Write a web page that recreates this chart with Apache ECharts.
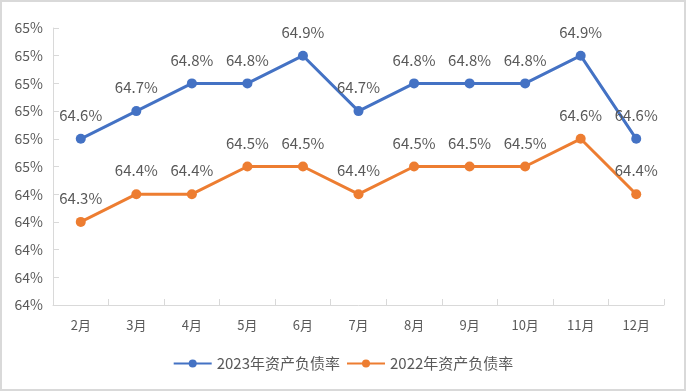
<!DOCTYPE html>
<html>
<head>
<meta charset="utf-8">
<script src="https://cdn.jsdelivr.net/npm/echarts@6/dist/echarts.min.js"></script>
<style>
html,body{margin:0;padding:0;background:#fff;}
#wrap{position:relative;width:686px;height:391px;}
#chart{width:686px;height:391px;}
#frame{position:absolute;left:0;top:0;width:686px;height:391px;box-sizing:border-box;border:2px solid #d9d9d9;pointer-events:none;}
</style>
</head>
<body>
<div id="wrap"><div id="chart"></div><div id="frame"></div></div>
<script>
const categories = ['2月','3月','4月','5月','6月','7月','8月','9月','10月','11月','12月'];
const series2023 = [64.6, 64.7, 64.8, 64.8, 64.9, 64.7, 64.8, 64.8, 64.8, 64.9, 64.6];
const series2022 = [64.3, 64.4, 64.4, 64.5, 64.5, 64.4, 64.5, 64.5, 64.5, 64.6, 64.4];
const yTickLabels = ['64%','64%','64%','64%','64%','65%','65%','65%','65%','65%','65%'];
const seriesNames = ['2023年资产负债率','2022年资产负债率'];

const FONT = "'Noto Sans CJK SC', 'Noto Sans', sans-serif";
const TEXT = '#595959';
const AXIS = '#d9d9d9';

const chart = echarts.init(document.getElementById('chart'));
function mkSeries(name, data, color) {
  return {
    name: name, type: 'line', data: data,
    symbol: 'circle', symbolSize: 10,
    lineStyle: {width: 3, color: color},
    itemStyle: {color: color},
    label: {show: true, position: 'top', distance: 11, color: TEXT, fontSize: 15, fontFamily: FONT,
      formatter: p => p.value.toFixed(1) + '%'},
    animation: false
  };
}
chart.setOption({
  animation: false,
  grid: {left: 53, right: 22, top: 28, bottom: 86},
  legend: {
    bottom: 15, left: 'center', itemWidth: 38, itemHeight: 10, itemGap: 6,
    textStyle: {color: TEXT, fontSize: 15, fontFamily: FONT},
    data: seriesNames
  },
  xAxis: {
    type: 'category', data: categories, boundaryGap: true,
    axisLine: {lineStyle: {color: AXIS, width: 1}},
    axisTick: {show: true, inside: true, length: 6, lineStyle: {color: AXIS}},
    axisLabel: {color: TEXT, fontSize: 13, fontFamily: FONT, margin: 14}
  },
  yAxis: {
    type: 'value', min: 64, max: 65, interval: 0.1,
    axisLine: {show: true, lineStyle: {color: AXIS, width: 1}},
    axisTick: {show: true, inside: true, length: 6, lineStyle: {color: AXIS}},
    splitLine: {show: false},
    axisLabel: {color: TEXT, fontSize: 14, fontFamily: FONT, margin: 10,
      formatter: (v, i) => yTickLabels[i]}
  },
  series: [
    mkSeries(seriesNames[0], series2023, '#4472C4'),
    mkSeries(seriesNames[1], series2022, '#ED7D31')
  ]
});
</script>
</body>
</html>
